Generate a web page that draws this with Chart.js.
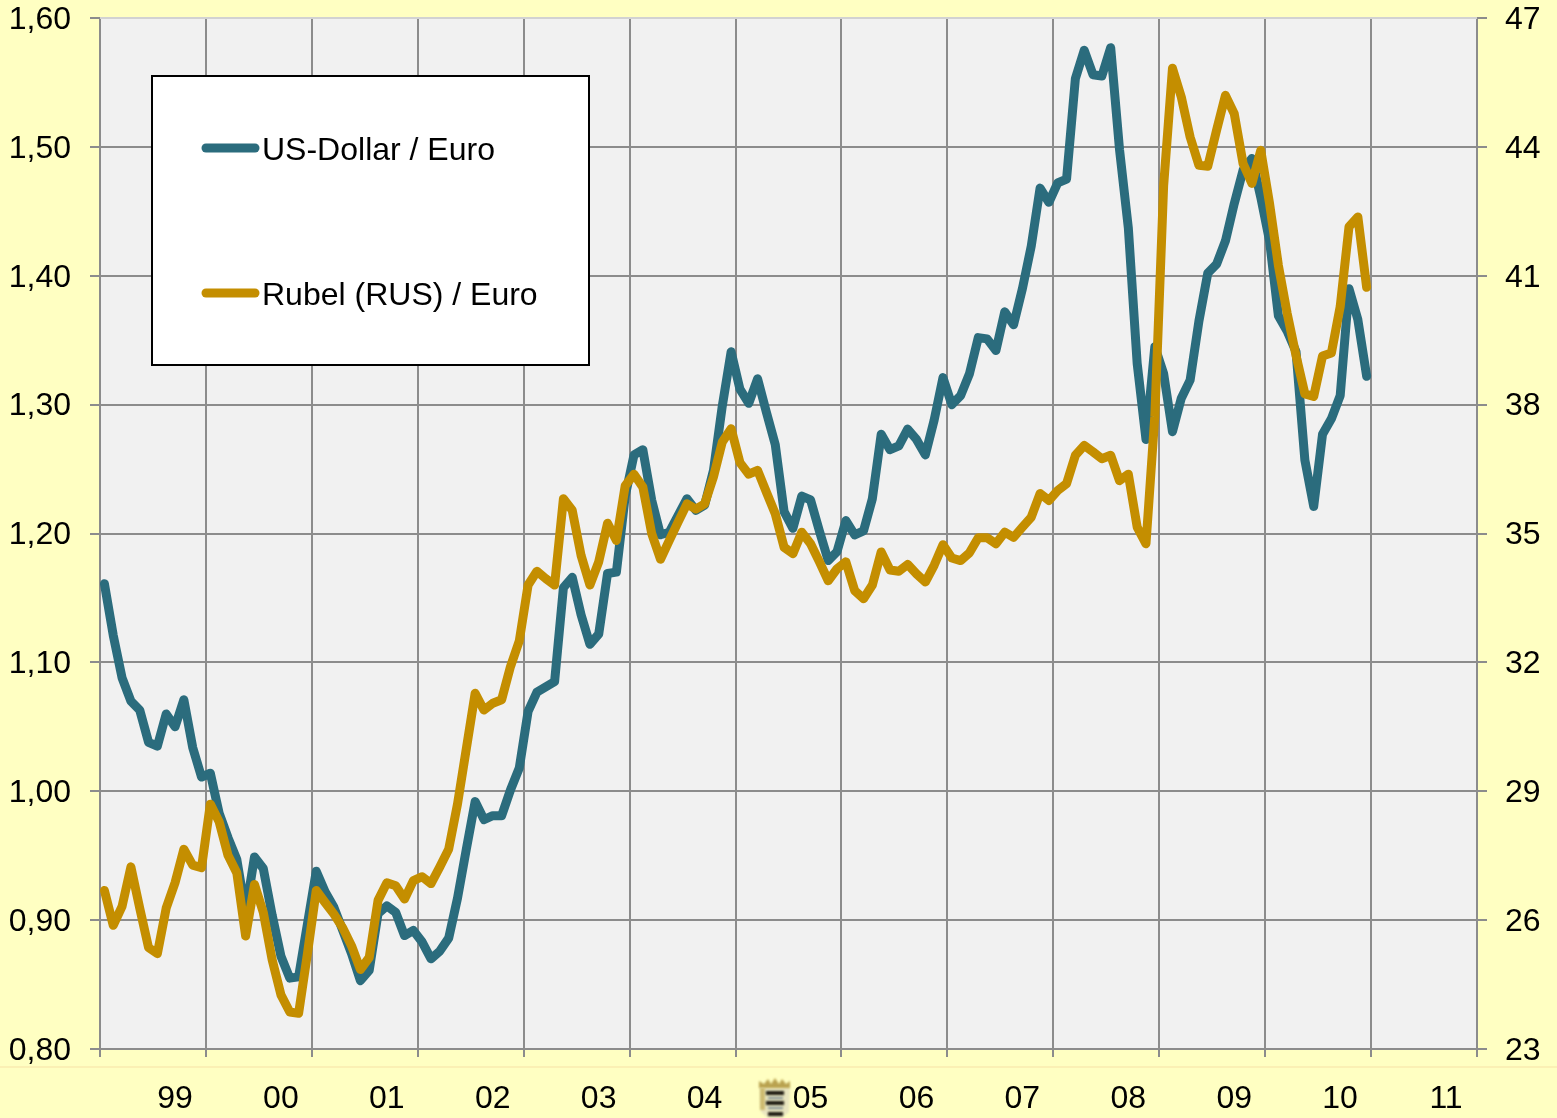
<!DOCTYPE html>
<html lang="de">
<head>
<meta charset="utf-8">
<title>US-Dollar / Euro und Rubel / Euro</title>
<script src="https://cdn.jsdelivr.net/npm/chart.js@4"></script>
<style>
html,body{margin:0;padding:0;background:#FFFFC2;}
#wrap{position:relative;width:1557px;height:1118px;}
canvas{display:block;}
</style>
</head>
<body>
<div id="wrap"><canvas id="c" width="1557" height="1118"></canvas></div>
<script>
const yearLabels = ['99','00','01','02','03','04','05','06','07','08','09','10','11'];
const monthNames = ['Jan','Feb','Mar','Apr','Mai','Jun','Jul','Aug','Sep','Okt','Nov','Dez'];
const usdEuro = [
 1.161,1.121,1.088,1.070,1.063,1.038,1.035,1.060,1.050,1.071,1.034,1.011,
 1.014,0.983,0.964,0.947,0.906,0.949,0.940,0.904,0.872,0.855,0.856,0.897,
 0.938,0.922,0.910,0.892,0.874,0.853,0.861,0.905,0.911,0.906,0.888,0.892,
 0.883,0.870,0.876,0.886,0.917,0.955,0.992,0.978,0.981,0.981,1.001,1.018,
 1.062,1.077,1.081,1.085,1.158,1.166,1.137,1.114,1.122,1.169,1.170,1.229,
 1.261,1.265,1.226,1.199,1.201,1.214,1.227,1.218,1.222,1.249,1.299,1.341,
 1.312,1.301,1.320,1.294,1.269,1.217,1.204,1.229,1.226,1.202,1.179,1.186,
 1.210,1.199,1.202,1.227,1.277,1.265,1.268,1.281,1.273,1.261,1.288,1.321,
 1.300,1.307,1.324,1.352,1.351,1.342,1.372,1.362,1.390,1.423,1.468,1.457,
 1.472,1.475,1.553,1.575,1.556,1.555,1.577,1.498,1.437,1.332,1.273,1.345,
 1.324,1.279,1.305,1.319,1.365,1.402,1.409,1.427,1.456,1.482,1.491,1.461,
 1.427,1.369,1.357,1.341,1.257,1.221,1.277,1.289,1.307,1.390,1.366,1.322
];
const rubelEuro = [
 26.69,25.88,26.32,27.24,26.28,25.36,25.22,26.28,26.87,27.65,27.28,27.22,
 28.70,28.29,27.51,27.10,25.63,26.83,26.18,25.08,24.26,23.86,23.83,25.22,
 26.69,26.41,26.14,25.82,25.40,24.85,25.13,26.46,26.87,26.80,26.49,26.92,
 27.01,26.85,27.24,27.65,28.70,29.99,31.28,30.89,31.05,31.13,31.90,32.50,
 33.80,34.12,33.95,33.80,35.81,35.54,34.49,33.80,34.34,35.24,34.84,36.11,
 36.38,36.08,35.00,34.40,34.84,35.27,35.69,35.57,35.69,36.32,37.13,37.44,
 36.65,36.38,36.47,35.96,35.46,34.68,34.53,35.03,34.76,34.34,33.90,34.18,
 34.34,33.67,33.48,33.80,34.57,34.15,34.12,34.28,34.06,33.87,34.26,34.74,
 34.43,34.37,34.55,34.90,34.90,34.76,35.03,34.91,35.15,35.38,35.93,35.77,
 36.00,36.16,36.82,37.05,36.90,36.74,36.82,36.23,36.38,35.15,34.76,37.73,
 43.10,45.83,45.16,44.23,43.57,43.55,44.39,45.20,44.77,43.61,43.15,43.92,
 42.68,41.24,40.12,39.14,38.25,38.19,39.13,39.20,40.28,42.14,42.37,40.73
];
const monthLabels = yearLabels.flatMap(y => monthNames.map(m => m + ' ' + y));

const C = {
  page:'#FFFFC2', plot:'#F1F1F1', grid:'#8C8C8C', topLine:'#D2D2D2', band:'#FBF0B4',
  usd:'#2B6C7D', rub:'#C48E00', text:'#000000'
};
const FONT = '"Liberation Sans", Arial, sans-serif';
const TICK_SIZE = 32;

const backdrop = {
  id:'backdrop',
  beforeDraw(chart){
    const {ctx,chartArea:a,width,height} = chart;
    ctx.save();
    ctx.fillStyle = C.page; ctx.fillRect(0,0,width,height);
    ctx.fillStyle = C.band; ctx.fillRect(0,1066,width,2);
    ctx.fillStyle = C.plot; ctx.fillRect(a.left,a.top,a.right-a.left,a.bottom-a.top);
    ctx.restore();
  }
};

const legendBox = {
  id:'legendBox',
  afterDraw(chart){
    const {ctx} = chart;
    ctx.save();
    ctx.fillStyle='#FFFFFF'; ctx.fillRect(152,76,437,289);
    ctx.strokeStyle='#000000'; ctx.lineWidth=2; ctx.strokeRect(152,76,437,289);
    ctx.lineCap='round'; ctx.lineWidth=9;
    ctx.textAlign='left'; ctx.textBaseline='alphabetic';
    ctx.font = '32px '+FONT;
    [148,293].forEach((yy,i)=>{
      const ds = chart.data.datasets[i];
      ctx.strokeStyle = ds.borderColor;
      ctx.beginPath(); ctx.moveTo(206,yy); ctx.lineTo(255,yy); ctx.stroke();
      ctx.fillStyle = C.text;
      ctx.fillText(ds.label,262,yy+12);
    });
    ctx.restore();
  }
};

const crest = {
  id:'crest',
  afterDraw(chart){
    const {ctx} = chart;
    ctx.save();
    ctx.filter='blur(1px)';
    ctx.fillStyle='#E9E6C0';
    ctx.beginPath();
    ctx.moveTo(760,1087); ctx.lineTo(790,1087); ctx.lineTo(789,1112); ctx.lineTo(782,1118);
    ctx.lineTo(768,1118); ctx.lineTo(761,1112); ctx.closePath(); ctx.fill();
    ctx.fillStyle='#B9A24F';
    ctx.beginPath();
    ctx.moveTo(759,1088); ctx.lineTo(759,1081); ctx.lineTo(764,1084); ctx.lineTo(768,1079);
    ctx.lineTo(771,1084); ctx.lineTo(775,1078); ctx.lineTo(779,1084); ctx.lineTo(782,1079);
    ctx.lineTo(786,1084); ctx.lineTo(790,1081); ctx.lineTo(790,1088); ctx.closePath(); ctx.fill();
    ctx.fillStyle='#CDBB70';
    ctx.fillRect(760,1088,5,22);
    ctx.fillStyle='#1C1A12';
    ctx.fillRect(766,1091,18,4);
    ctx.fillRect(766,1101,18,4);
    ctx.fillRect(768,1112,15,4);
    ctx.fillStyle='#7C8A90';
    ctx.fillRect(768,1097,15,2);
    ctx.fillRect(768,1107,15,2);
    ctx.restore();
  }
};

const yTickFmt = v => Number(v).toFixed(2).replace('.',',');

new Chart(document.getElementById('c'),{
  type:'line',
  data:{
    labels:monthLabels,
    datasets:[
      {label:'US-Dollar / Euro',data:usdEuro,yAxisID:'y',xAxisID:'xm',borderColor:C.usd,backgroundColor:C.usd,order:2},
      {label:'Rubel (RUS) / Euro',data:rubelEuro,yAxisID:'y1',xAxisID:'xm',borderColor:C.rub,backgroundColor:C.rub,order:1}
    ]
  },
  options:{
    responsive:false,
    animation:false,
    layout:{padding:0},
    elements:{
      line:{borderWidth:9,tension:0,borderJoinStyle:'round',borderCapStyle:'round',fill:false},
      point:{radius:0,hitRadius:0}
    },
    plugins:{legend:{display:false},title:{display:false},tooltip:{enabled:false}},
    scales:{
      xm:{type:'category',labels:monthLabels,display:false,offset:true,position:'bottom'},
      x:{
        type:'category',labels:yearLabels,position:'bottom',offset:true,
        border:{display:false},
        grid:{offset:true,color:C.grid,tickColor:C.grid,lineWidth:2,drawTicks:true,tickLength:8},
        ticks:{autoSkip:false,maxRotation:0,minRotation:0,labelOffset:22,padding:23,color:C.text,font:{family:FONT,size:TICK_SIZE}},
        afterFit(s){s.height=69;s.paddingLeft=0;s.paddingRight=0;}
      },
      y:{
        position:'left',min:0.8,max:1.6,
        border:{display:false},
        grid:{
          color:c=>(c.tick && c.tick.value>1.59)?C.topLine:C.grid,
          tickColor:C.grid,lineWidth:2,tickLength:10
        },
        ticks:{stepSize:0.1,padding:19,labelOffset:2,color:C.text,font:{family:FONT,size:TICK_SIZE},callback:yTickFmt},
        afterFit(s){s.width=100;s.paddingTop=18;s.paddingBottom=0;}
      },
      y1:{
        position:'right',min:23,max:47,
        border:{display:false},
        grid:{drawOnChartArea:false,tickColor:C.grid,lineWidth:2,tickLength:10},
        ticks:{stepSize:3,padding:18,labelOffset:2,color:C.text,font:{family:FONT,size:TICK_SIZE}},
        afterFit(s){s.width=80;s.paddingTop=18;s.paddingBottom=0;}
      }
    }
  },
  plugins:[backdrop,legendBox,crest]
});
</script>
</body>
</html>
